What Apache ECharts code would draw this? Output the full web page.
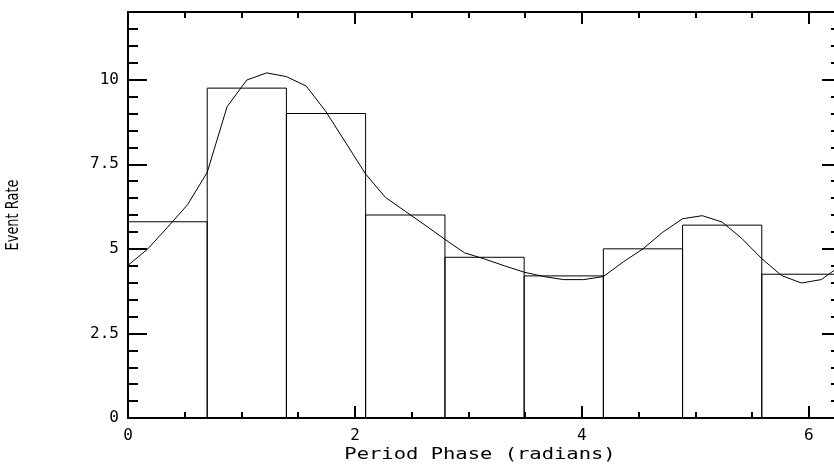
<!DOCTYPE html>
<html>
<head>
<meta charset="utf-8">
<script src="https://cdn.jsdelivr.net/npm/echarts@6/dist/echarts.min.js"></script>
<style>
  html, body { margin: 0; padding: 0; background: #fff; }
  #chart { width: 834px; height: 465px; }
</style>
</head>
<body>
<div id="chart"></div>
<script>
// histogram bins (phase in radians)
var binStart = [0, 0.698, 1.396, 2.094, 2.793, 3.491, 4.189, 4.887, 5.585];
var binEnd = [0.698, 1.396, 2.094, 2.793, 3.491, 4.189, 4.887, 5.585, 6.283];
var binRate = [5.8, 9.75, 9.0, 6.0, 4.75, 4.2, 5.0, 5.7, 4.25];

// fitted curve
var curvePhase = [0, 0.175, 0.349, 0.524, 0.698, 0.873, 1.047, 1.222, 1.396, 1.571,
    1.745, 1.920, 2.094, 2.269, 2.443, 2.618, 2.793, 2.967, 3.142, 3.316,
    3.491, 3.665, 3.840, 4.014, 4.189, 4.363, 4.538, 4.712, 4.887, 5.061,
    5.236, 5.411, 5.585, 5.760, 5.934, 6.109, 6.283];
var curveRate = [4.51, 5.0, 5.64, 6.3, 7.26, 9.2, 9.99, 10.2, 10.09, 9.81,
    9.05, 8.13, 7.21, 6.52, 6.11, 5.7, 5.28, 4.88, 4.7, 4.5,
    4.31, 4.18, 4.09, 4.09, 4.18, 4.61, 5.0, 5.49, 5.89, 5.98,
    5.79, 5.3, 4.71, 4.21, 3.99, 4.09, 4.51];

// axis ticks
var xMajorTicks = [0, 2, 4, 6];
var xMinorTicks = [0.5, 1, 1.5, 2.5, 3, 3.5, 4.5, 5, 5.5];
var yMajorTicks = [0, 2.5, 5, 7.5, 10];
var yMinorTicks = [0.5, 1, 1.5, 2, 3, 3.5, 4, 4.5, 5.5, 6, 6.5, 7, 8, 8.5, 9, 9.5, 10.5, 11, 11.5];

var xTitle = 'Period Phase (radians)';
var yTitle = 'Event Rate';

var X_MAX = 6.2832, Y_MAX = 12;
var labelFont = { color: '#000', fontFamily: 'DejaVu Sans Mono', fontSize: 16 };

function xAxisDef(pos, values, len, main) {
    return {
        type: 'value', position: pos, min: 0, max: X_MAX, interval: 2,
        axisLine: { show: main, onZero: false, lineStyle: { color: '#000', width: 2 } },
        axisTick: { show: true, inside: true, length: len, customValues: values,
            lineStyle: { color: '#000', width: 2 } },
        axisLabel: (main && pos === 'bottom') ?
            Object.assign({ show: true, margin: 10, customValues: xMajorTicks }, labelFont) :
            { show: false },
        splitLine: { show: false }
    };
}

function yAxisDef(pos, values, len, main) {
    return {
        type: 'value', position: pos, min: 0, max: Y_MAX, interval: 2.5,
        axisLine: { show: main, onZero: false, lineStyle: { color: '#000', width: 2 } },
        axisTick: { show: true, inside: true, length: len, customValues: values,
            lineStyle: { color: '#000', width: 2 } },
        axisLabel: (main && pos === 'left') ?
            Object.assign({ show: true, margin: 9, customValues: yMajorTicks }, labelFont) :
            { show: false },
        splitLine: { show: false }
    };
}

var chart = echarts.init(document.getElementById('chart'), null, { renderer: 'canvas' });
chart.setOption({
    animation: false,
    backgroundColor: '#fff',
    grid: { left: 128, top: 12, width: 713, bottom: 47, outerBoundsMode: 'none', containLabel: false },
    xAxis: [
        xAxisDef('bottom', xMajorTicks, 12, true),
        xAxisDef('bottom', xMinorTicks, 6, false),
        xAxisDef('top', xMajorTicks, 12, true),
        xAxisDef('top', xMinorTicks, 6, false)
    ],
    yAxis: [
        yAxisDef('left', yMajorTicks, 19, true),
        yAxisDef('left', yMinorTicks, 10, false),
        yAxisDef('right', yMajorTicks, 19, true),
        yAxisDef('right', yMinorTicks, 10, false)
    ],
    // axis titles (scaled to the wide / narrow lettering of the original)
    graphic: [
        {
            type: 'text', x: 480, y: 455, scaleX: 1.28,
            style: { text: xTitle, fill: '#000', font: '16px "DejaVu Sans Mono"',
                align: 'center', verticalAlign: 'middle' }
        },
        {
            type: 'text', x: 13, y: 215, rotation: Math.PI / 2, scaleX: 0.72,
            style: { text: yTitle, fill: '#000', font: '18px "DejaVu Sans"',
                align: 'center', verticalAlign: 'middle' }
        }
    ],
    series: [
        {
            type: 'custom',
            data: binStart.map(function (s, i) { return [s, binEnd[i], binRate[i]]; }),
            encode: { x: [0, 1], y: 2 },
            renderItem: function (params, api) {
                var p0 = api.coord([api.value(0), api.value(2)]);
                var p1 = api.coord([api.value(1), 0]);
                return {
                    type: 'rect',
                    shape: { x: p0[0], y: p0[1], width: p1[0] - p0[0], height: p1[1] - p0[1] },
                    style: { fill: 'none', stroke: '#000', lineWidth: 1 }
                };
            }
        },
        {
            type: 'line',
            data: curvePhase.map(function (p, i) { return [p, curveRate[i]]; }),
            showSymbol: false,
            lineStyle: { color: '#000', width: 1 },
            z: 3
        }
    ]
});
</script>
</body>
</html>
